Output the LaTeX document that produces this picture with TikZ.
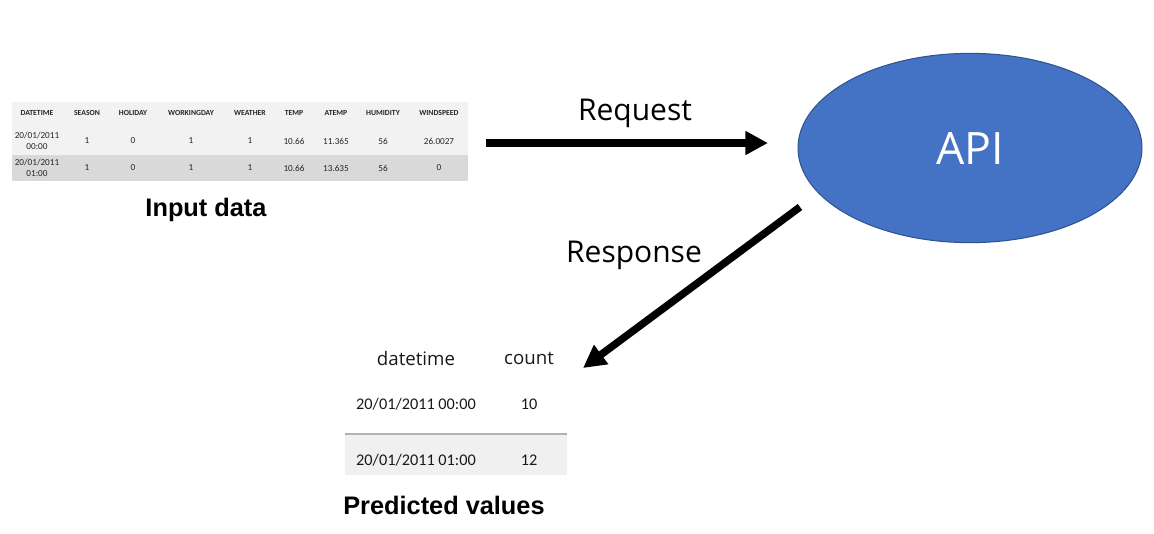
\documentclass[tikz,border=0pt]{standalone}
\usepackage{fontspec}
\setmainfont{Carlito}[Ligatures=NoCommon]
\newfontfamily\arialf{Liberation Sans}
\newfontfamily\segf{Open Sans}
\usetikzlibrary{arrows.meta,shapes.geometric}
\begin{document}
\begin{tikzpicture}[x=0.75pt,y=-0.75pt,
  hd/.style={font=\fontsize{5.8}{6}\selectfont\bfseries, inner sep=0pt, text=black!85},
  cell/.style={font=\fontsize{6.9}{8.5}\selectfont, inner sep=0pt, align=center, text=black!85},
  bcell/.style={font=\fontsize{12.2}{14}\selectfont, inner sep=0pt, text=black!90},
  bhd/.style={font=\segf\fontsize{14}{17}\selectfont, inner sep=0pt, text=black!90},
  captext/.style={font=\arialf\bfseries\fontsize{19}{22}\selectfont, inner sep=0pt},
  lbl/.style={font=\segf\fontsize{22.5}{26}\selectfont, inner sep=0pt},
  bigarrow/.style={line width=5.6pt, -{Triangle[length=17pt,width=17pt]}}]
\useasboundingbox (0,0) rectangle (1154,533);
% top table backgrounds
\fill[black!5] (12,102) rectangle (468,155);
\fill[black!15] (12,155) rectangle (468,181);
% header
\node[hd] (h1) at (37,113) {DATETIME};
\node[hd] (h2) at (87,113) {SEASON};
\node[hd] (h3) at (133,113) {HOLIDAY};
\node[hd] (h4) at (191,113) {WORKINGDAY};
\node[hd] (h5) at (250,113) {WEATHER};
\node[hd] (h6) at (294,113) {TEMP};
\node[hd] (h7) at (336,113) {ATEMP};
\node[hd] (h8) at (383,113) {HUMIDITY};
\node[hd] (h9) at (439,113) {WINDSPEED};
% row 1
\node[cell] (a1) at (37,141) {20/01/2011\\00:00};
\node[cell] (a2) at (87,141) {1};
\node[cell] (a3) at (133,141) {0};
\node[cell] (a4) at (191,141) {1};
\node[cell] (a5) at (250,141) {1};
\node[cell] (a6) at (294,141) {10.66};
\node[cell] (a7) at (336,141) {11.365};
\node[cell] (a8) at (383,141) {56};
\node[cell] (a9) at (439,141) {26.0027};
% row 2
\node[cell] (b1) at (37,168) {20/01/2011\\01:00};
\node[cell] (b2) at (87,168) {1};
\node[cell] (b3) at (133,168) {0};
\node[cell] (b4) at (191,168) {1};
\node[cell] (b5) at (250,168) {1};
\node[cell] (b6) at (294,168) {10.66};
\node[cell] (b7) at (336,168) {13.635};
\node[cell] (b8) at (383,168) {56};
\node[cell] (b9) at (439,168) {0};
\node[captext] (input) at (206,210) {Input data};
% API
\node[ellipse, draw={rgb,255:red,47;green,82;blue,143}, line width=0.75pt,
  fill={rgb,255:red,68;green,114;blue,196}, minimum width=258pt, minimum height=142pt,
  inner sep=0pt, text=white, font=\segf\fontsize{33.5}{36}\selectfont] (api) at (970,148) {API};
% arrows
\coordinate (reqS) at (486,143);
\coordinate (reqE) at (768,143);
\draw[bigarrow] (reqS) -- (reqE);
\node[lbl] (req) at (635,113) {Request};
\coordinate (resS) at (800,207);
\coordinate (resE) at (583,368);
\draw[bigarrow] (resS) -- (resE);
\node[lbl] (res) at (634,255) {Response};
% bottom table
\fill[black!6] (345,434) rectangle (567,475);
\draw[black!30, line width=0.9pt] (345,434) -- (567,434);
\node[bhd] (c1) at (416,358) {datetime};
\node[bhd] (c2) at (529,358) {count};
\node[bcell] (d1) at (416,404) {20/01/2011 00:00};
\node[bcell] (d2) at (529,404) {10};
\node[bcell] (e1) at (416,460) {20/01/2011 01:00};
\node[bcell] (e2) at (529,460) {12};
\node[captext] (pred) at (444,505) {Predicted values};
\end{tikzpicture}
\end{document}
